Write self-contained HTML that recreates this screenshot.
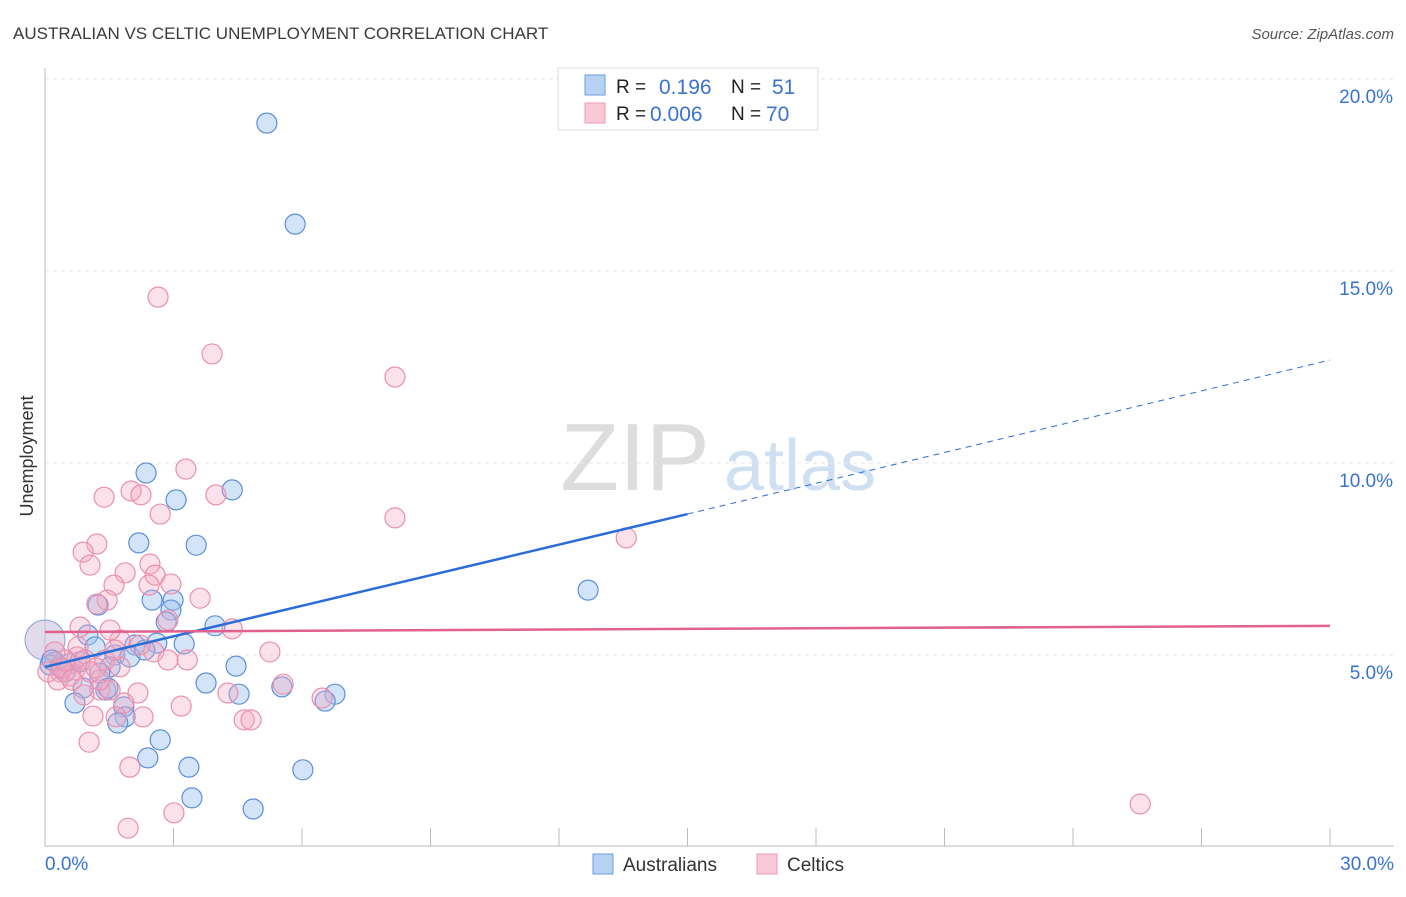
<!DOCTYPE html>
<html><head><meta charset="utf-8"><style>
body{margin:0;background:#fff;font-family:"Liberation Sans",sans-serif;}
svg text{font-family:"Liberation Sans",sans-serif;}
</style></head><body>
<svg id="c" width="1406" height="892">
<text x="13" y="39" font-size="17" fill="#3a3a3a">AUSTRALIAN VS CELTIC UNEMPLOYMENT CORRELATION CHART</text>
<text x="1394" y="39" font-size="15" fill="#555" font-style="italic" text-anchor="end">Source: ZipAtlas.com</text>
<text transform="translate(33,456) rotate(-90)" font-size="18" fill="#333" text-anchor="middle">Unemployment</text>
<g><text x="635" y="490" font-size="96" fill="#ddd" font-family="Liberation Serif" text-anchor="middle">ZIP</text><text x="800" y="490" font-size="72" fill="#cfe0f3" text-anchor="middle">atlas</text></g>
<g id="grid"></g><g id="marks"></g>
<g>
<rect x="558" y="68" width="260" height="62" fill="#fff" stroke="#ddd"/>
<rect x="585" y="75" width="20" height="20" fill="#b8d2f4" stroke="#6b9ce0"/>
<rect x="585" y="103" width="20" height="20" fill="#f9c9d8" stroke="#ee9ab5"/>
<text x="616" y="93" font-size="19" fill="#222">R =</text><text x="659" y="94" font-size="21" fill="#3a72d0">0.196</text>
<text x="731" y="93" font-size="19" fill="#222">N =</text><text x="772" y="94" font-size="21" fill="#3a72d0">51</text>
<text x="616" y="120" font-size="19" fill="#222">R =</text><text x="650" y="121" font-size="21" fill="#3a72d0">0.006</text>
<text x="731" y="120" font-size="19" fill="#222">N =</text><text x="766" y="121" font-size="21" fill="#3a72d0">70</text>
</g>
<g>
<rect x="593" y="854" width="20" height="20" fill="#b8d2f4" stroke="#6b9ce0"/>
<text x="623" y="871" font-size="19" fill="#333">Australians</text>
<rect x="757" y="854" width="20" height="20" fill="#f9c9d8" stroke="#ee9ab5"/>
<text x="787" y="871" font-size="19" fill="#333">Celtics</text>
</g>
</svg>
<script>
const blueX=[5.18,5.84,2.36,3.06,4.37,2.19,3.53,12.68,1.24,2.50,2.99,2.94,2.83,3.97,1.00,1.17,2.10,2.61,3.25,1.63,1.98,2.33,1.52,4.46,0.23,0.58,0.12,1.28,0.89,1.42,3.76,4.53,5.53,6.77,6.54,0.70,1.84,1.87,1.70,2.69,2.40,3.36,6.02,3.43,4.86,0.35,0.47,1.47,0.16,0.82];
const blueY=[18.85,16.22,9.74,9.04,9.30,7.92,7.86,6.69,6.30,6.43,6.43,6.17,5.86,5.76,5.52,5.21,5.26,5.31,5.29,5.00,4.95,5.13,4.69,4.71,4.82,4.77,4.74,4.53,4.14,4.09,4.27,3.98,4.17,3.98,3.80,3.75,3.65,3.39,3.23,2.79,2.32,2.08,2.01,1.28,0.99,4.69,4.56,4.14,4.87,4.82];
const pinkX=[2.64,3.90,8.17,3.29,1.38,2.01,2.24,3.99,2.69,8.17,1.21,0.89,1.05,2.45,13.57,1.87,2.57,1.61,2.94,2.43,3.62,1.45,1.21,2.87,0.82,4.37,1.75,2.54,0.77,2.87,3.32,5.25,0.75,1.40,1.75,1.28,2.17,4.27,0.91,1.52,6.47,5.56,3.18,1.84,1.12,2.29,1.66,4.65,4.81,1.03,1.98,1.94,3.01,25.57,0.35,0.58,0.30,0.70,0.93,1.05,1.28,0.47,0.07,0.23,1.63,2.22,1.52,0.40,0.63,1.19];
const pinkY=[14.32,12.84,12.24,9.84,9.11,9.27,9.17,9.17,8.67,8.57,7.89,7.68,7.34,7.37,8.05,7.14,7.08,6.82,6.85,6.82,6.48,6.43,6.33,5.91,5.73,5.68,5.39,5.08,5.21,4.87,4.87,5.08,4.95,4.87,4.69,4.09,4.01,4.01,3.96,4.09,3.88,4.24,3.67,3.75,3.41,3.39,3.39,3.31,3.31,2.73,2.08,0.49,0.89,1.12,4.56,4.45,4.35,4.61,4.87,4.56,4.35,4.87,4.56,5.08,5.13,5.26,5.65,4.66,4.35,4.66];
const blueTrendX=[0,15,30];
const blueTrendY=[4.69,8.67,12.68];
const pinkTrendX=[0,30];
const pinkTrendY=[5.6,5.76];
const yTicks=[5,10,15,20];
const yTickLabels=["5.0%","10.0%","15.0%","20.0%"];
const xTicks=[0,3,6,9,12,15,18,21,24,27,30];

const NS="http://www.w3.org/2000/svg";
const X=v=>45+v*42.833, Y=v=>847-v*38.4;
function mk(tag,at,parent){const e=document.createElementNS(NS,tag);for(const k in at)e.setAttribute(k,at[k]);parent.appendChild(e);return e;}
const grid=document.getElementById('grid'), marks=document.getElementById('marks');
yTicks.forEach((t,i)=>{
  const l=mk('line',{x1:45,x2:1394,y1:Y(t),y2:Y(t),stroke:'#e6e6e6','stroke-dasharray':'4,4'},grid);
  
  
  const tx=mk('text',{x:1393,y:Y(t)+24,'font-size':19,fill:'#3a72d0','text-anchor':'end'},grid);
  tx.textContent=yTickLabels[i];
  
  
});
const ax=mk('line',{x1:45,x2:45,y1:68,y2:846,stroke:'#bbb'},grid);


const bx=mk('line',{x1:45,x2:1394,y1:846,y2:846,stroke:'#bbb'},grid);


xTicks.forEach(t=>{
  const l=mk('line',{x1:X(t),x2:X(t),y1:828,y2:846,stroke:'#bbb'},grid);
  
  
});
const x0=mk('text',{x:45,y:870,'font-size':19,fill:'#3a72d0'},grid);x0.textContent="0.0%";


const x1=mk('text',{x:1394,y:870,'font-size':19,fill:'#3a72d0','text-anchor':'end'},grid);x1.textContent="30.0%";



const big=mk('circle',{cx:X(0),cy:Y(5.39),r:20,fill:'rgba(200,190,220,0.55)',stroke:'#8a9fd8'},marks);


blueX.forEach((x,i)=>{
  const c=mk('circle',{cx:X(x),cy:Y(blueY[i]),r:10,fill:'rgba(160,196,240,0.45)',stroke:'#5b8fd8','stroke-width':1.2},marks);
  
  
});
pinkX.forEach((x,i)=>{
  const c=mk('circle',{cx:X(x),cy:Y(pinkY[i]),r:10,fill:'rgba(244,170,195,0.35)',stroke:'#ea8fae','stroke-width':1.2},marks);
  
  
});
const bt1=mk('line',{x1:X(blueTrendX[0]),y1:Y(blueTrendY[0]),x2:X(blueTrendX[1]),y2:Y(blueTrendY[1]),stroke:'#2a6dd6','stroke-width':2.5},marks);


const bt2=mk('line',{x1:X(blueTrendX[1]),y1:Y(blueTrendY[1]),x2:X(blueTrendX[2]),y2:Y(blueTrendY[2]),stroke:'#2a6dd6','stroke-width':1,'stroke-dasharray':'6,5'},marks);


const pt=mk('line',{x1:X(pinkTrendX[0]),y1:Y(pinkTrendY[0]),x2:X(pinkTrendX[1]),y2:Y(pinkTrendY[1]),stroke:'#e0608e','stroke-width':2.5},marks);


</script>
</body></html>
